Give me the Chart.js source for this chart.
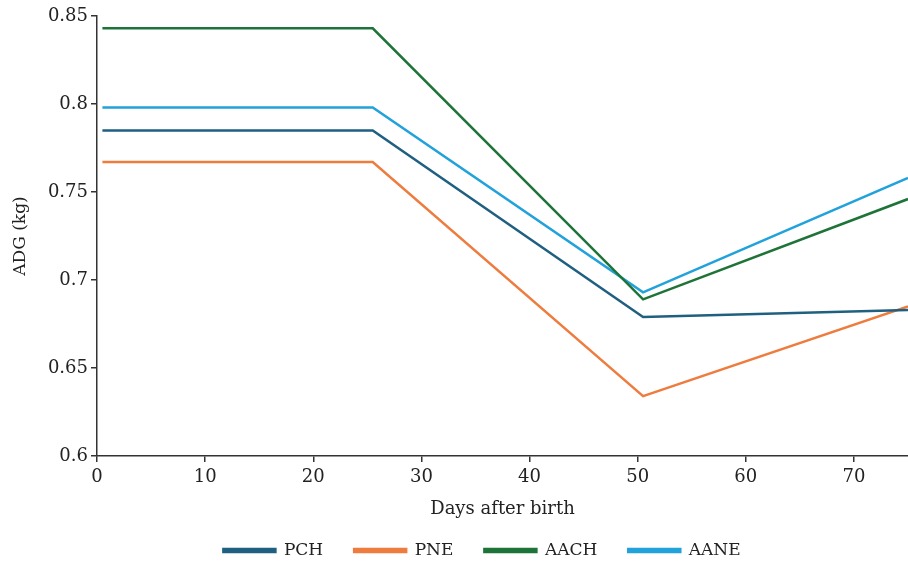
<!DOCTYPE html>
<html>
<head>
<meta charset="utf-8">
<script src="https://cdn.jsdelivr.net/npm/chart.js@4"></script>
<style>
  html, body { margin: 0; padding: 0; background: #fff; }
  #wrap { width: 908px; height: 561px; }
</style>
</head>
<body>
<div id="wrap"><canvas id="chart" width="908" height="561"></canvas></div>
<script>
/* DATA */
const days = [0.5, 25.5, 50.5, 75];
const pch  = [0.785, 0.785, 0.679, 0.683];
const pne  = [0.767, 0.767, 0.634, 0.685];
const aach = [0.843, 0.843, 0.689, 0.746];
const aane = [0.798, 0.798, 0.693, 0.758];
const xTicks = [0, 10, 20, 30, 40, 50, 60, 70];

const seriesNames = ["PCH", "PNE", "AACH", "AANE"];
const seriesColors = ["#1f5f80", "#ee7c3e", "#1e7438", "#22a2da"];
const seriesValues = [pch, pne, aach, aane];

const FONT = "'DejaVu Serif', 'Liberation Serif', serif";
const AXIS = "#333333";
const TEXT = "#222222";

const datasets = seriesNames.map((name, i) => ({
  label: name,
  data: days.map((d, j) => ({ x: d, y: seriesValues[i][j] })),
  borderColor: seriesColors[i],
  backgroundColor: seriesColors[i],
  borderWidth: 2.5,
  pointRadius: 0,
  tension: 0
}));

// legend in the source sits a bit right of centre and a little higher
const legendShift = {
  id: "legendShift",
  afterLayout(chart) {
    const lg = chart.legend;
    lg.left += 28;
    lg.right += 28;
    lg.top -= 9;
    lg.bottom -= 9;
  }
};

new Chart(document.getElementById("chart"), {
  type: "line",
  data: { datasets },
  plugins: [legendShift],
  options: {
    responsive: false,
    animation: false,
    layout: { padding: { top: 16, right: 0, left: 0, bottom: -17 } },
    plugins: {
      tooltip: { enabled: false },
      legend: {
        position: "bottom",
        labels: {
          boxWidth: 52,
          boxHeight: 3,
          padding: 31,
          color: TEXT,
          font: { family: FONT, size: 17 }
        }
      }
    },
    scales: {
      x: {
        type: "linear",
        min: 0,
        max: 75,
        border: { color: AXIS, width: 1.5 },
        grid: { drawOnChartArea: false, color: AXIS, tickLength: 6, lineWidth: 1.5 },
        afterBuildTicks: s => { s.ticks = xTicks.map(v => ({ value: v })); },
        ticks: {
          color: TEXT,
          padding: 5,
          font: { family: FONT, size: 18 }
        },
        title: {
          display: true,
          text: "Days after birth",
          color: TEXT,
          padding: { top: 1, bottom: 0 },
          font: { family: FONT, size: 18 }
        },
        afterFit: s => { s.height = 64; }
      },
      y: {
        min: 0.6,
        max: 0.85,
        border: { color: AXIS, width: 1.5 },
        grid: { drawOnChartArea: false, color: AXIS, tickLength: 6, lineWidth: 1.5 },
        ticks: {
          stepSize: 0.05,
          color: TEXT,
          padding: 3,
          font: { family: FONT, size: 18 },
          callback: v => +v.toFixed(2)
        },
        title: {
          display: true,
          text: "ADG (kg)",
          color: TEXT,
          padding: { top: 10, bottom: 0 },
          font: { family: FONT, size: 17 }
        },
        afterFit: s => { s.width = 97; }
      }
    }
  }
});
</script>
</body>
</html>
